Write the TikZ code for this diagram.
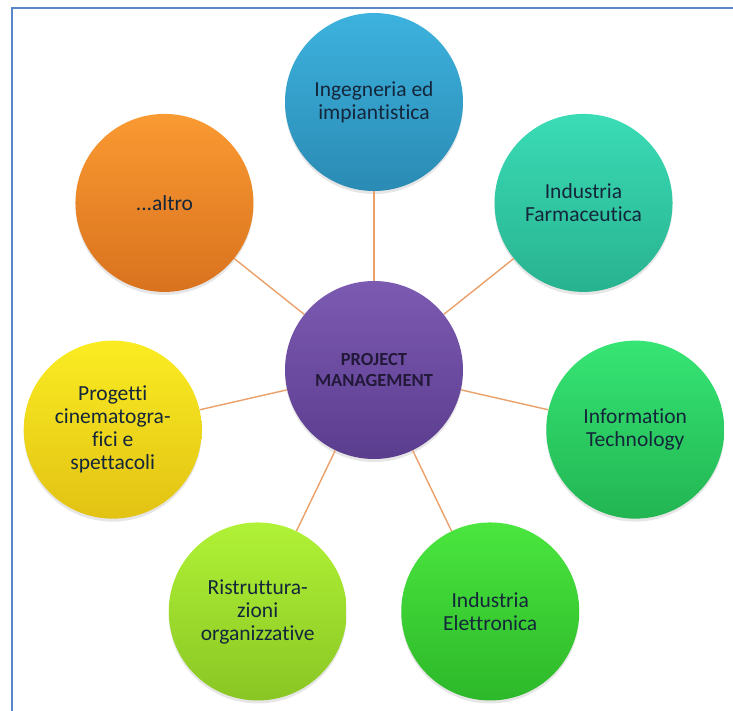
\documentclass[tikz,border=0pt]{standalone}
\usepackage{fontspec}
\setmainfont{Carlito}[Ligatures=NoCommon]
\usepackage{xcolor}
\definecolor{FrameBlue}{HTML}{5A86C5}
\definecolor{LinkTan}{HTML}{EBA06A}
\definecolor{TextDark}{HTML}{14263A}
\definecolor{HubText}{HTML}{221838}
\definecolor{HubTop}{HTML}{7C5AB2}
\definecolor{HubBot}{HTML}{5B3D8E}
\definecolor{EngTop}{HTML}{3DB2DE}
\definecolor{EngBot}{HTML}{2A8BB4}
\definecolor{PharTop}{HTML}{3ADCB6}
\definecolor{PharBot}{HTML}{28B28F}
\definecolor{ItTop}{HTML}{36E574}
\definecolor{ItBot}{HTML}{22B552}
\definecolor{ElecTop}{HTML}{4AE63E}
\definecolor{ElecBot}{HTML}{2DB82A}
\definecolor{ReorgTop}{HTML}{B0F236}
\definecolor{ReorgBot}{HTML}{8AC624}
\definecolor{FilmTop}{HTML}{FAEC22}
\definecolor{FilmBot}{HTML}{E2C214}
\definecolor{MoreTop}{HTML}{FA9A32}
\definecolor{MoreBot}{HTML}{D9721E}
\usepackage{tikz}
\usetikzlibrary{shadows}

\begin{document}
\begin{tikzpicture}[
    x=1pt, y=1pt,
    bubble/.style={circle, minimum size=178pt, inner sep=0pt, align=center,
                   font=\fontsize{21.5}{23}\selectfont, text=TextDark,
                   drop shadow={shadow xshift=0pt, shadow yshift=-3pt, opacity=0.2}},
    hub/.style={bubble, font=\fontsize{18.5}{21}\selectfont\bfseries,
                top color=HubTop, bottom color=HubBot, text=HubText},
    link/.style={draw=LinkTan, line width=1.4pt}
  ]
    \useasboundingbox (-374,-341) rectangle (359,370);
    \draw[FrameBlue, line width=2.5pt] (-362,-345) -- (-362,362) -- (365,362);

    \node[hub] (pm) at (0,0) {PROJECT\\MANAGEMENT};
    \node[bubble, top color=EngTop, bottom color=EngBot] (eng) at (90:268) {Ingegneria ed\\impiantistica};
    \node[bubble, top color=PharTop, bottom color=PharBot] (phar) at (38.57:268) {Industria\\Farmaceutica};
    \node[bubble, top color=ItTop, bottom color=ItBot] (it) at (-12.86:268) {Information\\Technology};
    \node[bubble, top color=ElecTop, bottom color=ElecBot] (elec) at (-64.29:268) {Industria\\Elettronica};
    \node[bubble, top color=ReorgTop, bottom color=ReorgBot] (reorg) at (-115.71:268) {Ristruttura-\\zioni\\organizzative};
    \node[bubble, top color=FilmTop, bottom color=FilmBot] (film) at (-167.14:268) {Progetti\\cinematogra-\\fici e\\spettacoli};
    \node[bubble, top color=MoreTop, bottom color=MoreBot] (more) at (141.43:268) {...altro};

    \draw[link] (pm) -- (eng);
    \draw[link] (pm) -- (phar);
    \draw[link] (pm) -- (it);
    \draw[link] (pm) -- (elec);
    \draw[link] (pm) -- (reorg);
    \draw[link] (pm) -- (film);
    \draw[link] (pm) -- (more);
  \end{tikzpicture}
\end{document}
